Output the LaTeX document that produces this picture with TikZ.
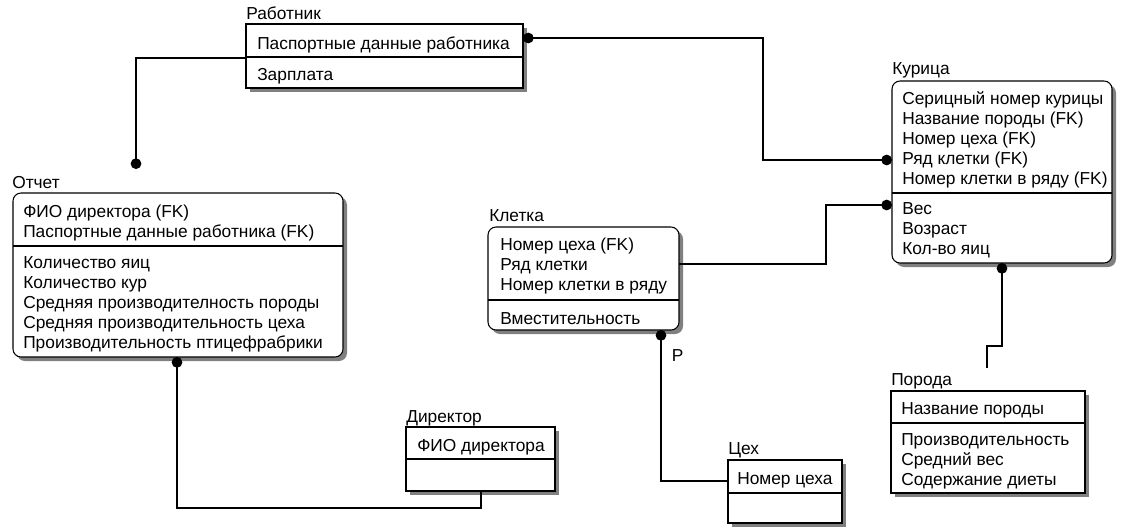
\documentclass[tikz,border=0pt]{standalone}
\usepackage{fontspec}
\setmainfont{Liberation Sans}
\usetikzlibrary{calc,shadows,arrows.meta}

\begin{document}
\begin{tikzpicture}[x=0.75pt,y=-0.75pt,
    ent/.style={draw,line width=0.8pt,fill=white,anchor=north west,inner sep=0pt,outer sep=0pt,
      drop shadow={shadow xshift=3pt,shadow yshift=-3pt,fill=black!50,opacity=1}},
    dep/.style={ent,rounded corners=6pt},
    sep/.style={line width=0.8pt},
    title/.style={anchor=base west,inner sep=0pt,font=\fontsize{13}{15}\selectfont},
    rows/.style={anchor=north west,inner sep=0pt,align=left,font=\fontsize{13}{15}\selectfont,
      execute at begin node=\rule{0pt}{11pt}},
    rel/.style={line width=0.8pt},
    ball/.tip={Circle[length=8pt]}]
    \useasboundingbox (0,0) rectangle (1122,529);

    \node[ent,minimum width=277*0.75pt,minimum height=64*0.75pt] (rab) at (246,24) {};
    \draw[sep] (246,57) -- (523,57);
    \node[title] (rab-t) at (246,19.5) {Работник};
    \node[rows] (rab-k) at (257,35) {Паспортные данные работника};
    \node[rows] (rab-a) at (257,66) {Зарплата};

    \node[dep,minimum width=330*0.75pt,minimum height=164*0.75pt] (otch) at (13,193) {};
    \draw[sep] (13,246) -- (343,246);
    \node[title] (otch-t) at (12,188.5) {Отчет};
    \node[rows] (otch-k) at (23,205) {ФИО директора (FK)\\Паспортные данные работника (FK)};
    \node[rows] (otch-a) at (23,256) {Количество яиц\\Количество кур\\Средняя производителность породы\\Средняя производительность цеха\\Производительность птицефрабрики};

    \node[dep,minimum width=191*0.75pt,minimum height=103*0.75pt] (klet) at (488,227) {};
    \draw[sep] (488,300) -- (679,300);
    \node[title] (klet-t) at (489,221.5) {Клетка};
    \node[rows] (klet-k) at (500,238) {Номер цеха (FK)\\Ряд клетки\\Номер клетки в ряду};
    \node[rows] (klet-a) at (500,310) {Вместительность};

    \node[dep,minimum width=220*0.75pt,minimum height=182*0.75pt] (kur) at (892,81) {};
    \draw[sep] (892,193) -- (1112,193);
    \node[title] (kur-t) at (892,74.5) {Курица};
    \node[rows] (kur-k) at (902,91) {Серицный номер курицы\\Название породы (FK)\\Номер цеха (FK)\\Ряд клетки (FK)\\Номер клетки в ряду (FK)};
    \node[rows] (kur-a) at (902,202) {Вес\\Возраст\\Кол-во яиц};

    \node[ent,minimum width=149*0.75pt,minimum height=64*0.75pt] (dir) at (406,427) {};
    \draw[sep] (406,459) -- (555,459);
    \node[title] (dir-t) at (406,422.5) {Директор};
    \node[rows] (dir-k) at (417,437) {ФИО директора};

    \node[ent,minimum width=114*0.75pt,minimum height=63*0.75pt] (ceh) at (728,460) {};
    \draw[sep] (728,493) -- (842,493);
    \node[title] (ceh-t) at (728,454.5) {Цех};
    \node[rows] (ceh-k) at (737,470) {Номер цеха};

    \node[ent,minimum width=194*0.75pt,minimum height=102*0.75pt] (por) at (891,391) {};
    \draw[sep] (891,423) -- (1085,423);
    \node[title] (por-t) at (891,385.5) {Порода};
    \node[rows] (por-k) at (901,400) {Название породы};
    \node[rows] (por-a) at (901,433) {Производительность\\Средний вес\\Содержание диеты};

    \draw[rel,-ball] ($(rab.north west)+(0,34)$) -| ($(otch.north west)+(123,-24)$);
    \draw[rel,ball-ball] ($(rab.north east)+(0,14)$) -| ($(kur.north west)+(-129,79)$) -- ($(kur.north west)+(0,79)$);
    \draw[rel,-ball] ($(klet.north east)+(0,37)$) -| ($(kur.north west)+(-66,124)$) -- ($(kur.north west)+(0,124)$);
    \draw[rel,ball-] ($(klet.south west)+(173,0)$) |- ($(ceh.north west)+(0,21)$);
    \node[title] (p) at (671.5,361) {P};
    \draw[rel,ball-] ($(otch.south west)+(164,0)$) |- ($(dir.south west)+(75,17)$) -- ($(dir.south west)+(75,0)$);
    \draw[rel,ball-] ($(kur.south west)+(110,0)$) |- ($(por.north west)+(96,-45)$) -- ($(por.north west)+(96,-23)$);
\end{tikzpicture}
\end{document}
